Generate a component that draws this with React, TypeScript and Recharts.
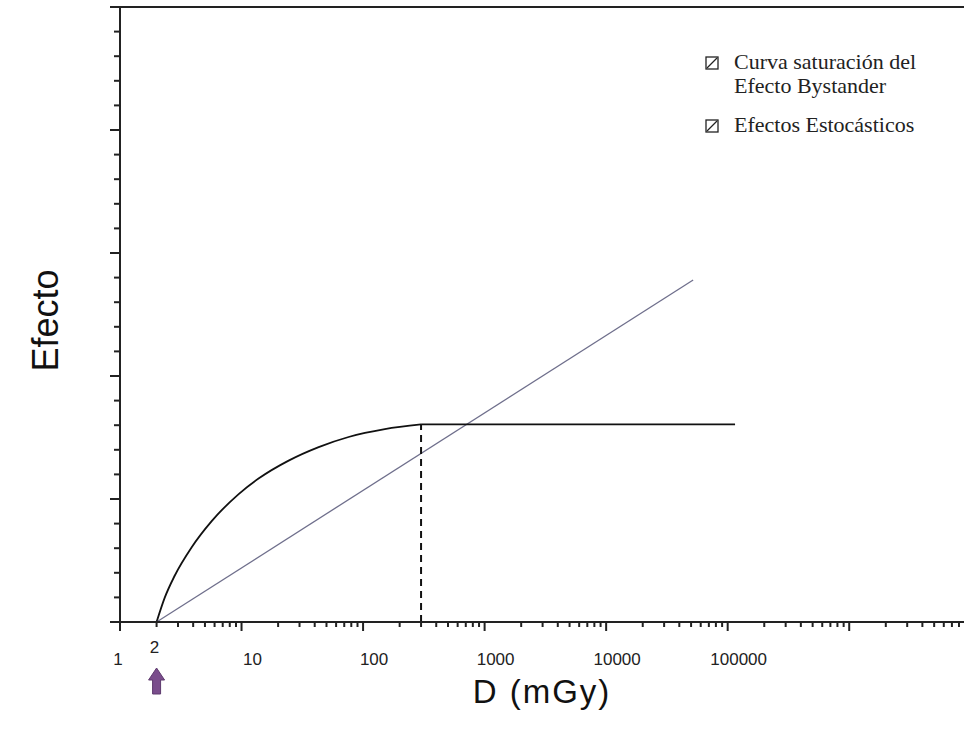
import { LineChart, Line, XAxis, YAxis, ReferenceLine, ReferenceDot, Legend } from 'recharts'

// log x axis: decades and the minor steps inside each one
const decades = [1, 10, 100, 1000, 10000, 100000, 1000000]
const minorSteps = [2, 3, 4, 5, 6, 7, 8, 9]
const xTickLabels: Record<number, string> = {
  1: '1', 2: '2', 10: '10', 100: '100', 1000: '1000', 10000: '10000', 100000: '100000',
}
const yTicks = [0, 1, 2, 3, 4, 5, 6, 7, 8, 9, 10, 11, 12, 13, 14, 15, 16, 17, 18, 19, 20, 21, 22, 23, 24, 25]

// Curva saturación del Efecto Bystander (rising part, then the plateau)
const saturationDose = [2, 2.33, 2.81, 3.89, 5.68, 9.47, 13.8, 24.4, 43.1, 76, 151, 300]
const saturationEffect = [0, 0.98, 1.87, 3.04, 4.1, 5.2, 5.83, 6.56, 7.11, 7.52, 7.84, 8.03]
const plateauDose = [300, 115000]
const plateauEffect = [8.03, 8.03]
// Efectos Estocásticos
const stochasticDose = [2, 52000]
const stochasticEffect = [0, 13.9]
// threshold drop line
const thresholdDose = [300, 300]
const thresholdEffect = [0, 8.03]

const seriesNames = ['Curva saturación del\nEfecto Bystander', 'Efectos Estocásticos']

const toPoints = (d: number[], e: number[]) => d.map((dose, i) => ({ dose, effect: e[i] }))
const saturationData = toPoints(saturationDose, saturationEffect)
const plateauData = toPoints(plateauDose, plateauEffect)
const stochasticData = toPoints(stochasticDose, stochasticEffect)
const thresholdData = toPoints(thresholdDose, thresholdEffect)

const xTicks = decades.flatMap((d) => [d, ...minorSteps.map((m) => d * m)]).filter((v) => v <= 8.8e6)

const axisColor = '#222'
const sans = '"Liberation Sans", Arial, sans-serif'

function DoseTick(props: any) {
  const { x, y, payload } = props
  const v = payload.value
  const major = decades.includes(v)
  const label = xTickLabels[v]
  let lx = x + 11
  let ly = y + 43
  if (v === 1) lx = x - 2
  if (v === 2) {
    lx = x - 2
    ly = y + 31
  }
  return (
    <g>
      <line x1={x} y1={y} x2={x} y2={y + (major ? 9 : 5)} stroke={axisColor} strokeWidth={2} />
      {label && (
        <text x={lx} y={ly} textAnchor="middle" fontFamily={sans} fontSize={17} fill="#222">
          {label}
        </text>
      )}
    </g>
  )
}

function EffectTick(props: any) {
  const { x, y, payload } = props
  const major = payload.value % 5 === 0
  return <line x1={x} y1={y} x2={x - (major ? 10 : 6)} y2={y} stroke={axisColor} strokeWidth={2} />
}

function EffectLabel(props: any) {
  const { viewBox } = props
  const cx = viewBox.x + 45
  const cy = viewBox.y + viewBox.height / 2 + 6
  return (
    <text x={cx} y={cy} transform={`rotate(-90, ${cx}, ${cy})`} textAnchor="middle" dominantBaseline="central"
      fontFamily={sans} fontSize={36} fill="#111">
      Efecto
    </text>
  )
}

function Arrow(props: any) {
  const { cx, cy } = props
  const top = cy + 46
  return (
    <path
      d={`M ${cx} ${top} L ${cx + 8} ${top + 12} L ${cx + 4} ${top + 12} L ${cx + 4} ${top + 26} L ${cx - 4} ${top + 26} L ${cx - 4} ${top + 12} L ${cx - 8} ${top + 12} Z`}
      fill="#7a4d8c"
      stroke="#5e3a6e"
      strokeWidth={1}
    />
  )
}

function CurveLegend(props: any) {
  const payload = (props.payload || []).filter((p: any) => seriesNames.includes(p.value))
  return (
    <div style={{ fontFamily: '"Liberation Serif", "Times New Roman", serif', fontSize: 22, color: '#222' }}>
      {payload.map((p: any, i: number) => (
        <div key={i} style={{ display: 'flex', alignItems: 'flex-start', marginBottom: 15 }}>
          <svg width={14} height={14} style={{ marginTop: 6, flex: 'none' }}>
            <rect x={1} y={1} width={12} height={12} fill="none" stroke="#222" strokeWidth={1.3} />
            <line x1={2} y1={12} x2={12} y2={2} stroke="#222" strokeWidth={1.3} />
          </svg>
          <span style={{ marginLeft: 15, lineHeight: '24px', whiteSpace: 'pre-line' }}>{p.value}</span>
        </div>
      ))}
    </div>
  )
}

export default function App() {
  return (
    <div style={{ position: 'absolute', left: 0, top: 0 }}>
      <LineChart width={964} height={736} margin={{ top: 7, right: 0, bottom: 0, left: 0 }}>
        <XAxis
          dataKey="dose"
          type="number"
          scale="log"
          domain={[1, 8.8e6]}
          allowDataOverflow
          ticks={xTicks}
          interval={0}
          tick={<DoseTick />}
          tickSize={0}
          tickMargin={0}
          tickLine={false}
          height={114}
          axisLine={{ stroke: axisColor, strokeWidth: 2 }}
          label={{ value: 'D (mGy)', position: 'insideBottom', offset: 33, fontFamily: sans, fontSize: 33, letterSpacing: 2, fill: '#111' }}
        />
        <YAxis
          dataKey="effect"
          type="number"
          domain={[0, 25]}
          ticks={yTicks}
          interval={0}
          tick={<EffectTick />}
          tickSize={0}
          tickMargin={0}
          tickLine={false}
          width={120}
          axisLine={{ stroke: axisColor, strokeWidth: 2 }}
          label={<EffectLabel />}
        />
        <ReferenceLine y={25} stroke={axisColor} strokeWidth={2} />
        <Line
          data={saturationData}
          dataKey="effect"
          name={seriesNames[0]}
          type="monotone"
          stroke="#111"
          strokeWidth={1.8}
          dot={false}
          isAnimationActive={false}
        />
        <Line
          data={stochasticData}
          dataKey="effect"
          name={seriesNames[1]}
          type="linear"
          stroke="#6f6f8c"
          strokeWidth={1.3}
          dot={false}
          isAnimationActive={false}
        />
        <Line
          data={plateauData}
          dataKey="effect"
          name="plateau"
          legendType="none"
          type="linear"
          stroke="#111"
          strokeWidth={1.8}
          dot={false}
          isAnimationActive={false}
        />
        <Line
          data={thresholdData}
          dataKey="effect"
          name="umbral"
          legendType="none"
          type="linear"
          stroke="#111"
          strokeWidth={2}
          strokeDasharray="7 5"
          dot={false}
          isAnimationActive={false}
        />
        <ReferenceDot x={2} y={0} r={0} ifOverflow="visible" shape={<Arrow />} />
        <Legend
          layout="vertical"
          align="center"
          verticalAlign="middle"
          content={<CurveLegend />}
          wrapperStyle={{ position: 'absolute', left: 705, top: 50, width: 250, height: 'auto' }}
        />
      </LineChart>
    </div>
  )
}
